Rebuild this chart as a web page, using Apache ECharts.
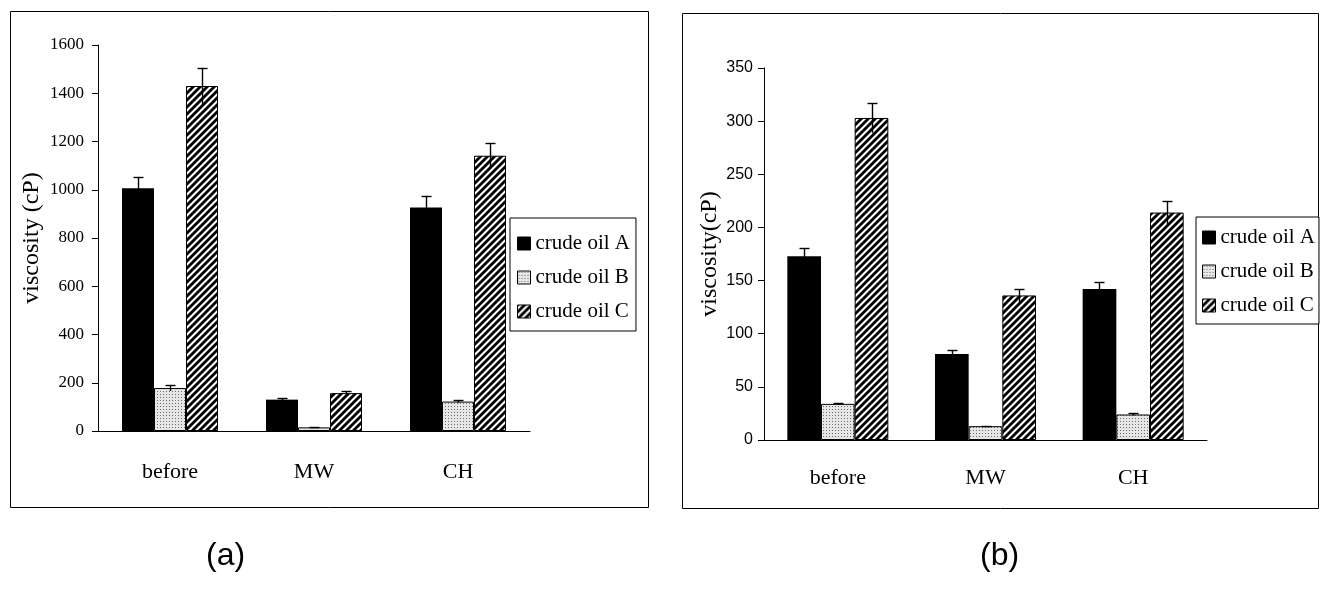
<!DOCTYPE html>
<html><head><meta charset="utf-8">
<script src="https://cdn.jsdelivr.net/npm/echarts@6/dist/echarts.min.js"></script>
<style>html,body{margin:0;padding:0;background:#fff}#c{width:1320px;height:594px}</style>
</head><body><div id="c"></div>
<script>
// ---- data ----
const categories = ['before', 'MW', 'CH'];
const seriesNames = ['crude oil A', 'crude oil B', 'crude oil C'];
// panel (a)
const aOilA = [1006, 130, 926];
const aOilB = [178, 15, 122];
const aOilC = [1430, 157, 1141];
const aErrA = [48, 7, 48];
const aErrB = [12, 3, 5];
const aErrC = [75, 9, 54];
const aTicks = [0, 200, 400, 600, 800, 1000, 1200, 1400, 1600];
// panel (b)
const bOilA = [173, 81, 142];
const bOilB = [34, 13, 24];
const bOilC = [303, 136, 214];
const bErrA = [8, 4, 7];
const bErrB = [1, 0.5, 1];
const bErrC = [14, 6.5, 11];
const bTicks = [0, 50, 100, 150, 200, 250, 300, 350];
const yNameA = 'viscosity (cP)';
const yNameB = 'viscosity(cP)';
const captions = ['(a)', '(b)'];

// ---- patterns ----
function dotPattern() {
  const c = document.createElement('canvas'); c.width = 3; c.height = 3;
  const g = c.getContext('2d');
  g.fillStyle = '#e6e6e6'; g.fillRect(0, 0, 3, 3);
  g.fillStyle = '#6e6e6e'; g.fillRect(1, 1, 1, 1);
  return c;
}
function hatchPattern() {
  const s = 7;
  const c = document.createElement('canvas'); c.width = s; c.height = s;
  const g = c.getContext('2d');
  g.fillStyle = '#ffffff'; g.fillRect(0, 0, s, s);
  g.strokeStyle = '#000000'; g.lineWidth = 2.8;
  [[-s, s, s, -s], [0, s, s, 0], [0, 2 * s, 2 * s, 0]].forEach(l => {
    g.beginPath(); g.moveTo(l[0], l[1]); g.lineTo(l[2], l[3]); g.stroke();
  });
  return c;
}
const dotImg = dotPattern();
const hatchImg = hatchPattern();
const styles = [
  { color: '#000000', borderColor: '#000', borderWidth: 0 },
  { color: { image: dotImg, repeat: 'repeat' }, borderColor: '#000', borderWidth: 1 },
  { color: { image: hatchImg, repeat: 'repeat' }, borderColor: '#000', borderWidth: 1 }
];

function errRender(k, gap) {
  return function (params, api) {
    const ci = api.value(0), v = api.value(1), e = api.value(2);
    const band = api.size([1, 0])[0];
    const bw = band * (1 - gap) / 3;
    const base = api.coord([ci, v]);
    const cx = Math.round(base[0] + (k - 1) * bw) + 0.5;
    const yt = Math.round(api.coord([ci, v + e])[1]) + 0.5;
    const yb = api.coord([ci, v - e])[1];
    return {
      type: 'group', children: [
        { type: 'line', shape: { x1: cx, y1: yt, x2: cx, y2: yb }, style: { stroke: '#000', lineWidth: 1.4 } },
        { type: 'line', shape: { x1: cx - 5, y1: yt, x2: cx + 5, y2: yt }, style: { stroke: '#000', lineWidth: 1.4 } }
      ]
    };
  };
}

const gapA = 1 / 3, gapB = 0.316;
const series = [];
[[aOilA, aOilB, aOilC, aErrA, aErrB, aErrC, 0, gapA], [bOilA, bOilB, bOilC, bErrA, bErrB, bErrC, 1, gapB]].forEach(p => {
  const vals = [p[0], p[1], p[2]], errs = [p[3], p[4], p[5]], gi = p[6], gap = p[7];
  vals.forEach((arr, k) => {
    series.push({
      type: 'bar', name: seriesNames[k], xAxisIndex: gi, yAxisIndex: gi,
      data: arr, barGap: '0%', barCategoryGap: (gap * 100) + '%',
      itemStyle: styles[k], emphasis: { disabled: true }, silent: true
    });
  });
  vals.forEach((arr, k) => {
    series.push({
      type: 'custom', name: 'err' + gi + k, xAxisIndex: gi, yAxisIndex: gi,
      data: arr.map((v, i) => [i, v, errs[k][i]]), encode: { x: 0, y: 1 },
      renderItem: errRender(k, gap), z: 5, silent: true
    });
  });
});

const serif = "'Liberation Serif', 'Times New Roman', serif";
const sans = "'Liberation Sans', Arial, sans-serif";
function xAxis(gi, margin) {
  return {
    type: 'category', gridIndex: gi, data: categories, boundaryGap: true,
    axisLine: { lineStyle: { color: '#000', width: 1 } },
    axisTick: { length: 8, lineStyle: { color: '#000' } },
    axisLabel: { color: '#000', fontFamily: serif, fontSize: 22, margin: margin }
  };
}
function yAxis(gi, ticks, name, font, fsize, gap, margin) {
  return {
    type: 'value', gridIndex: gi, min: ticks[0], max: ticks[ticks.length - 1], interval: ticks[1] - ticks[0],
    name: name, nameLocation: 'middle', nameRotate: 90, nameGap: gap,
    nameTextStyle: { color: '#000', fontFamily: serif, fontSize: 24 },
    splitLine: { show: false },
    axisLine: { show: true, lineStyle: { color: '#000', width: 1 } },
    axisTick: { show: true, length: 6, lineStyle: { color: '#000' } },
    axisLabel: { color: '#000', fontFamily: font, fontSize: fsize, margin: margin, formatter: v => String(v) }
  };
}
function legend(left, top, pad) {
  return {
    orient: 'vertical', left: left, top: top,
    data: seriesNames.map(n => ({ name: n, icon: 'rect' })),
    itemWidth: 13, itemHeight: 13, itemGap: 13, padding: pad,
    borderColor: '#000', borderWidth: 1, backgroundColor: '#fff',
    textStyle: { color: '#000', fontFamily: serif, fontSize: 21, lineHeight: 21 },
    selectedMode: false, itemStyle: { borderWidth: 1, borderColor: '#000' }
  };
}

const chart = echarts.init(document.getElementById('c'));
chart.setOption({
  animation: false,
  backgroundColor: '#fff',
  grid: [
    { left: 98, top: 45, width: 432, height: 386 },
    { left: 764, top: 68, width: 443, height: 372 }
  ],
  xAxis: [xAxis(0, 30), xAxis(1, 27)],
  yAxis: [
    yAxis(0, aTicks, yNameA, serif, 17, 54, 14),
    yAxis(1, bTicks, yNameB, sans, 16, 42, 11)
  ],
  legend: [legend(510, 218, [15, 6, 9, 7]), legend(1196, 217, [10, 4, 8, 6])],
  series: series,
  graphic: [
    { type: 'rect', shape: { x: 10.5, y: 11.5, width: 638, height: 496 }, style: { fill: 'none', stroke: '#000', lineWidth: 1 }, z: -1 },
    { type: 'rect', shape: { x: 682.5, y: 13.5, width: 636, height: 495 }, style: { fill: 'none', stroke: '#000', lineWidth: 1 }, z: -1 },
    { type: 'text', left: 206, top: 540, style: { text: captions[0], font: "32px 'Liberation Sans', Arial, sans-serif", fill: '#000' } },
    { type: 'text', left: 980, top: 540, style: { text: captions[1], font: "32px 'Liberation Sans', Arial, sans-serif", fill: '#000' } }
  ]
});
</script></body></html>
